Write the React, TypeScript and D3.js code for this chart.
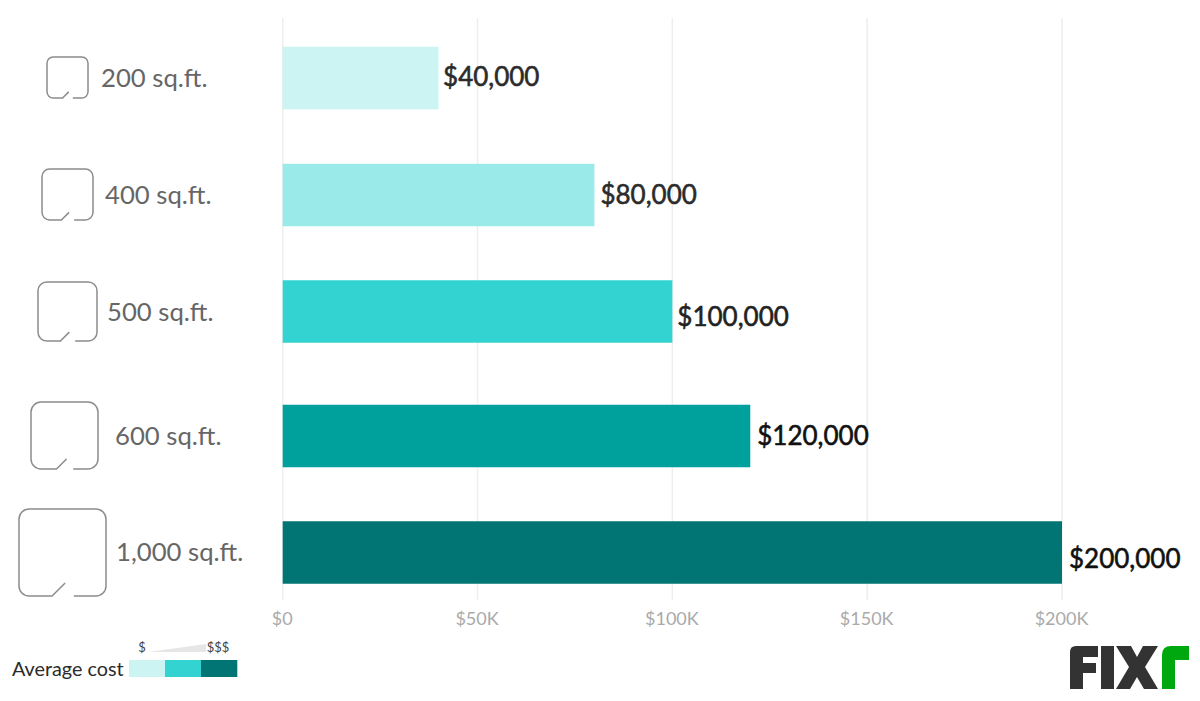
import * as d3 from 'd3'

const categories = ['200 sq.ft.', '400 sq.ft.', '500 sq.ft.', '600 sq.ft.', '1,000 sq.ft.']
const costs = [40000, 80000, 100000, 120000, 200000]
const barColors = ['#ccf4f3', '#9aeaea', '#33d3d1', '#00a19d', '#007574']
const valueColors = ['#2b2b2b', '#2b2b2b', '#222222', '#111111', '#111111']
const xTicks = [0, 50000, 100000, 150000, 200000]
const legendColors = ['#ccf4f3', '#33d3d1', '#007574']

// rows in the original are not evenly spaced
const rowCenters = [78, 195, 311.5, 436, 552.5]
const iconBoxes = [
  { x: 47, y: 57, size: 41 },
  { x: 42, y: 169, size: 51 },
  { x: 38, y: 282, size: 59 },
  { x: 31, y: 402, size: 67 },
  { x: 19, y: 509, size: 87 },
]
const labelX = [101, 105, 107, 115, 116]
const labelY = [78, 195, 312, 436, 552]
const valueY = [77, 195, 316.5, 436, 558.5]
const valueGap = [4.5, 6, 5, 7, 7]

const x = d3.scaleLinear().domain([0, 200000]).range([282.7, 1062])
const y = d3.scaleOrdinal<string, number>().domain(categories).range(rowCenters)
const barHeight = 62.5

const fmtTick = (d: number) => (d === 0 ? '$0' : `$${d / 1000}K`)
const fmtValue = (d: number) => `$${d3.format(',')(d)}`

function iconPath(b: { x: number; y: number; size: number }) {
  const s = b.size
  const r = Math.min(0.15 * s, 10)
  const left = b.x
  const top = b.y
  const right = b.x + s
  const bottom = b.y + s
  const p = d3.path()
  p.moveTo(left + 0.63 * s, bottom)
  p.lineTo(right - r, bottom)
  p.arcTo(right, bottom, right, bottom - r, r)
  p.lineTo(right, top + r)
  p.arcTo(right, top, right - r, top, r)
  p.lineTo(left + r, top)
  p.arcTo(left, top, left, top + r, r)
  p.lineTo(left, bottom - r)
  p.arcTo(left, bottom, left + r, bottom, r)
  p.lineTo(left + 0.38 * s, bottom)
  p.lineTo(left + 0.53 * s, bottom - 0.15 * s)
  return p.toString()
}

const logoDark = [
  'M1070,652 Q1070,646 1076,646 L1098,646 L1098,657 L1083,657 L1083,663 L1096,663 L1096,673 L1083,673 L1083,689 L1070,689 Z',
  'M1101,646 L1114,646 L1114,689 L1101,689 Z',
  'M1116,646 L1131,646 L1137,657 L1143,646 L1158,646 L1145,667 L1158,689 L1144,689 L1137,677 L1130,689 L1116,689 L1129,667 Z',
]
const logoGreen = 'M1162,689 L1162,655 Q1162,646 1171,646 L1189,646 L1189,660 L1175,660 L1175,689 Z'

export default function App() {
  return (
    <svg
      width={1200}
      height={701}
      style={{ position: 'absolute', left: 0, top: 0, fontFamily: 'Lato, sans-serif' }}
    >
      {xTicks.map((t) => (
        <g key={t}>
          <line x1={x(t)} x2={x(t)} y1={18} y2={600} stroke="#eeeeee" strokeWidth={1.5} />
          <text x={x(t) - 0.5} y={625} textAnchor="middle" fontSize={18} fill="#aaaaaa">
            {fmtTick(t)}
          </text>
        </g>
      ))}

      {categories.map((c, i) => (
        <g key={c}>
          <rect
            x={x(0)}
            y={y(c) - barHeight / 2}
            width={x(costs[i]) - x(0)}
            height={barHeight}
            fill={barColors[i]}
          />
          {/* no Lato medium installed, thin stroke fakes the weight */}
          <text
            x={x(costs[i]) + valueGap[i]}
            y={valueY[i]}
            dy="0.35em"
            fontSize={26}
            fill={valueColors[i]}
            stroke={valueColors[i]}
            strokeWidth={0.55}
          >
            {fmtValue(costs[i])}
          </text>
          <path d={iconPath(iconBoxes[i])} fill="none" stroke="#8c8c8c" strokeWidth={1.5} />
          <text x={labelX[i]} y={labelY[i]} dy="0.35em" fontSize={25.7} fill="#666666">
            {c}
          </text>
        </g>
      ))}

      <text x={12} y={676} fontSize={19.8} fill="#2b2b2b">
        Average cost
      </text>
      {legendColors.map((c, i) => (
        <rect key={c} x={129 + i * 36} y={660} width={36.3} height={17} fill={c} />
      ))}
      <text x={142} y={652} textAnchor="middle" fontSize={13} fill="#444444">
        $
      </text>
      <text x={218} y={652} textAnchor="middle" fontSize={13} fill="#444444">
        $$$
      </text>
      <polygon points="148,652 206,644 206,652" fill="#e6e6e6" />

      {logoDark.map((d) => (
        <path key={d} d={d} fill="#333333" />
      ))}
      <path d={logoGreen} fill="#00a80f" />
    </svg>
  )
}
